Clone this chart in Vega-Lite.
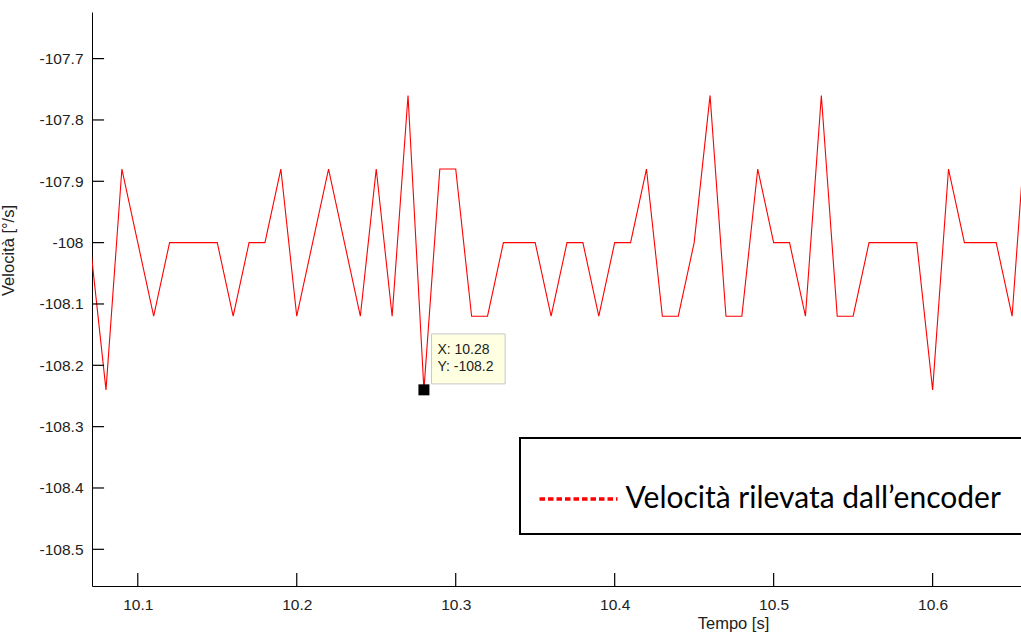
{
  "$schema": "https://vega.github.io/schema/vega-lite/v6.json",
  "width": 929,
  "height": 574,
  "autosize": {"type": "none"},
  "padding": {"left": 92, "top": 12, "right": 0, "bottom": 48},
  "background": "white",
  "config": {"view": {"stroke": null}, "legend": {"strokeWidth": 2}},
  "datasets": {
    "speed": [
      {"t": 10.07, "v": -108.0, "series": "Velocità rilevata dall’encoder"},
      {"t": 10.08, "v": -108.24, "series": "Velocità rilevata dall’encoder"},
      {"t": 10.09, "v": -107.88, "series": "Velocità rilevata dall’encoder"},
      {"t": 10.10, "v": -108.0, "series": "Velocità rilevata dall’encoder"},
      {"t": 10.11, "v": -108.12, "series": "Velocità rilevata dall’encoder"},
      {"t": 10.12, "v": -108.0, "series": "Velocità rilevata dall’encoder"},
      {"t": 10.13, "v": -108.0, "series": "Velocità rilevata dall’encoder"},
      {"t": 10.14, "v": -108.0, "series": "Velocità rilevata dall’encoder"},
      {"t": 10.15, "v": -108.0, "series": "Velocità rilevata dall’encoder"},
      {"t": 10.16, "v": -108.12, "series": "Velocità rilevata dall’encoder"},
      {"t": 10.17, "v": -108.0, "series": "Velocità rilevata dall’encoder"},
      {"t": 10.18, "v": -108.0, "series": "Velocità rilevata dall’encoder"},
      {"t": 10.19, "v": -107.88, "series": "Velocità rilevata dall’encoder"},
      {"t": 10.20, "v": -108.12, "series": "Velocità rilevata dall’encoder"},
      {"t": 10.21, "v": -108.0, "series": "Velocità rilevata dall’encoder"},
      {"t": 10.22, "v": -107.88, "series": "Velocità rilevata dall’encoder"},
      {"t": 10.23, "v": -108.0, "series": "Velocità rilevata dall’encoder"},
      {"t": 10.24, "v": -108.12, "series": "Velocità rilevata dall’encoder"},
      {"t": 10.25, "v": -107.88, "series": "Velocità rilevata dall’encoder"},
      {"t": 10.26, "v": -108.12, "series": "Velocità rilevata dall’encoder"},
      {"t": 10.27, "v": -107.76, "series": "Velocità rilevata dall’encoder"},
      {"t": 10.28, "v": -108.24, "series": "Velocità rilevata dall’encoder"},
      {"t": 10.29, "v": -107.88, "series": "Velocità rilevata dall’encoder"},
      {"t": 10.30, "v": -107.88, "series": "Velocità rilevata dall’encoder"},
      {"t": 10.31, "v": -108.12, "series": "Velocità rilevata dall’encoder"},
      {"t": 10.32, "v": -108.12, "series": "Velocità rilevata dall’encoder"},
      {"t": 10.33, "v": -108.0, "series": "Velocità rilevata dall’encoder"},
      {"t": 10.34, "v": -108.0, "series": "Velocità rilevata dall’encoder"},
      {"t": 10.35, "v": -108.0, "series": "Velocità rilevata dall’encoder"},
      {"t": 10.36, "v": -108.12, "series": "Velocità rilevata dall’encoder"},
      {"t": 10.37, "v": -108.0, "series": "Velocità rilevata dall’encoder"},
      {"t": 10.38, "v": -108.0, "series": "Velocità rilevata dall’encoder"},
      {"t": 10.39, "v": -108.12, "series": "Velocità rilevata dall’encoder"},
      {"t": 10.40, "v": -108.0, "series": "Velocità rilevata dall’encoder"},
      {"t": 10.41, "v": -108.0, "series": "Velocità rilevata dall’encoder"},
      {"t": 10.42, "v": -107.88, "series": "Velocità rilevata dall’encoder"},
      {"t": 10.43, "v": -108.12, "series": "Velocità rilevata dall’encoder"},
      {"t": 10.44, "v": -108.12, "series": "Velocità rilevata dall’encoder"},
      {"t": 10.45, "v": -108.0, "series": "Velocità rilevata dall’encoder"},
      {"t": 10.46, "v": -107.76, "series": "Velocità rilevata dall’encoder"},
      {"t": 10.47, "v": -108.12, "series": "Velocità rilevata dall’encoder"},
      {"t": 10.48, "v": -108.12, "series": "Velocità rilevata dall’encoder"},
      {"t": 10.49, "v": -107.88, "series": "Velocità rilevata dall’encoder"},
      {"t": 10.50, "v": -108.0, "series": "Velocità rilevata dall’encoder"},
      {"t": 10.51, "v": -108.0, "series": "Velocità rilevata dall’encoder"},
      {"t": 10.52, "v": -108.12, "series": "Velocità rilevata dall’encoder"},
      {"t": 10.53, "v": -107.76, "series": "Velocità rilevata dall’encoder"},
      {"t": 10.54, "v": -108.12, "series": "Velocità rilevata dall’encoder"},
      {"t": 10.55, "v": -108.12, "series": "Velocità rilevata dall’encoder"},
      {"t": 10.56, "v": -108.0, "series": "Velocità rilevata dall’encoder"},
      {"t": 10.57, "v": -108.0, "series": "Velocità rilevata dall’encoder"},
      {"t": 10.58, "v": -108.0, "series": "Velocità rilevata dall’encoder"},
      {"t": 10.59, "v": -108.0, "series": "Velocità rilevata dall’encoder"},
      {"t": 10.60, "v": -108.24, "series": "Velocità rilevata dall’encoder"},
      {"t": 10.61, "v": -107.88, "series": "Velocità rilevata dall’encoder"},
      {"t": 10.62, "v": -108.0, "series": "Velocità rilevata dall’encoder"},
      {"t": 10.63, "v": -108.0, "series": "Velocità rilevata dall’encoder"},
      {"t": 10.64, "v": -108.0, "series": "Velocità rilevata dall’encoder"},
      {"t": 10.65, "v": -108.12, "series": "Velocità rilevata dall’encoder"},
      {"t": 10.66, "v": -107.76, "series": "Velocità rilevata dall’encoder"}
    ],
    "xticks": [
      {"tick": 10.1}, {"tick": 10.2}, {"tick": 10.3}, {"tick": 10.4}, {"tick": 10.5}, {"tick": 10.6}
    ],
    "yticks": [
      {"tick": -108.5}, {"tick": -108.4}, {"tick": -108.3}, {"tick": -108.2}, {"tick": -108.1},
      {"tick": -108.0}, {"tick": -107.9}, {"tick": -107.8}, {"tick": -107.7}
    ],
    "tip": [
      {"t": 10.28, "v": -108.24, "bx0": 10.2848, "bx1": 10.3311, "by0": -108.1488, "by1": -108.2303}
    ],
    "tiptext": [
      {"lx": 10.2885, "ly": -108.1757, "label": "X: 10.28"},
      {"lx": 10.2885, "ly": -108.2034, "label": "Y: -108.2"}
    ]
  },
  "layer": [
    {
      "data": {"name": "speed"},
      "mark": {"type": "line", "strokeWidth": 1.1, "clip": true},
      "encoding": {
        "x": {
          "field": "t", "type": "quantitative",
          "scale": {"domain": [10.0712, 10.6556], "nice": false, "zero": false},
          "axis": {
            "orient": "bottom",
            "values": [10.1, 10.2, 10.3, 10.4, 10.5, 10.6],
            "format": ".1f",
            "title": "Tempo [s]",
            "titleX": 641, "titleY": 37, "titleAlign": "center", "titleBaseline": "middle",
            "titleFont": "Liberation Sans", "titleFontSize": 16.5, "titleFontWeight": "normal", "titleColor": "#222222",
            "labelFont": "Liberation Sans", "labelFontSize": 15.5, "labelColor": "#222222",
            "ticks": false, "domainColor": "black", "grid": false,
            "labelPadding": 11, "labelFlush": false, "labelOverlap": false
          }
        },
        "y": {
          "field": "v", "type": "quantitative",
          "scale": {"domain": [-108.5598, -107.624], "nice": false, "zero": false},
          "axis": {
            "orient": "left",
            "values": [-108.5, -108.4, -108.3, -108.2, -108.1, -108.0, -107.9, -107.8, -107.7],
            "labelExpr": "replace(format(datum.value, '.1~f'), '−', '-')",
            "title": "Velocità [°/s]",
            "titleX": -83.5, "titleY": 238, "titleAngle": -90, "titleAlign": "center", "titleBaseline": "middle",
            "titleFont": "Liberation Sans", "titleFontSize": 16.5, "titleFontWeight": "normal", "titleColor": "#222222",
            "labelFont": "Liberation Sans", "labelFontSize": 15.5, "labelColor": "#222222",
            "ticks": false, "domainColor": "black", "grid": false,
            "labelPadding": 9, "labelFlush": false, "labelOverlap": false
          }
        },
        "color": {
          "field": "series", "type": "nominal",
          "scale": {"range": ["#ff0000"]},
          "legend": {
            "orient": "none", "legendX": 428, "legendY": 426,
            "title": " ", "titleOrient": "right", "titlePadding": 40,
            "symbolType": "stroke", "symbolSize": 6084, "symbolStrokeWidth": 3.5,
            "symbolDash": [5.5, 3], "symbolStrokeColor": "#ff0000",
            "symbolOffset": -2.5, "labelOffset": 6,
            "labelFont": "Lato", "labelFontSize": 30, "labelColor": "black", "labelLimit": 1000,
            "padding": 20, "strokeColor": "black", "fillColor": "white"
          }
        }
      }
    },
    {
      "data": {"name": "xticks"},
      "mark": {"type": "rule", "color": "black", "strokeWidth": 1.2},
      "encoding": {
        "x": {"field": "tick", "type": "quantitative"},
        "y": {"datum": -108.5598},
        "y2": {"datum": -108.5386}
      }
    },
    {
      "data": {"name": "yticks"},
      "mark": {"type": "rule", "color": "black", "strokeWidth": 1.2},
      "encoding": {
        "y": {"field": "tick", "type": "quantitative"},
        "x": {"datum": 10.0712},
        "x2": {"datum": 10.0788}
      }
    },
    {
      "data": {"name": "tip"},
      "mark": {"type": "rect", "fill": "#ffffe1", "stroke": "#c8c8c8", "strokeWidth": 1},
      "encoding": {
        "x": {"field": "bx0", "type": "quantitative"},
        "x2": {"field": "bx1"},
        "y": {"field": "by0", "type": "quantitative"},
        "y2": {"field": "by1"}
      }
    },
    {
      "data": {"name": "tip"},
      "mark": {"type": "square", "size": 121, "fill": "black", "opacity": 1, "stroke": null},
      "encoding": {
        "x": {"field": "t", "type": "quantitative"},
        "y": {"field": "v", "type": "quantitative"}
      }
    },
    {
      "data": {"name": "tiptext"},
      "mark": {"type": "text", "align": "left", "baseline": "middle", "font": "Liberation Sans", "fontSize": 14, "color": "#222222"},
      "encoding": {
        "x": {"field": "lx", "type": "quantitative"},
        "y": {"field": "ly", "type": "quantitative"},
        "text": {"field": "label"}
      }
    }
  ]
}
